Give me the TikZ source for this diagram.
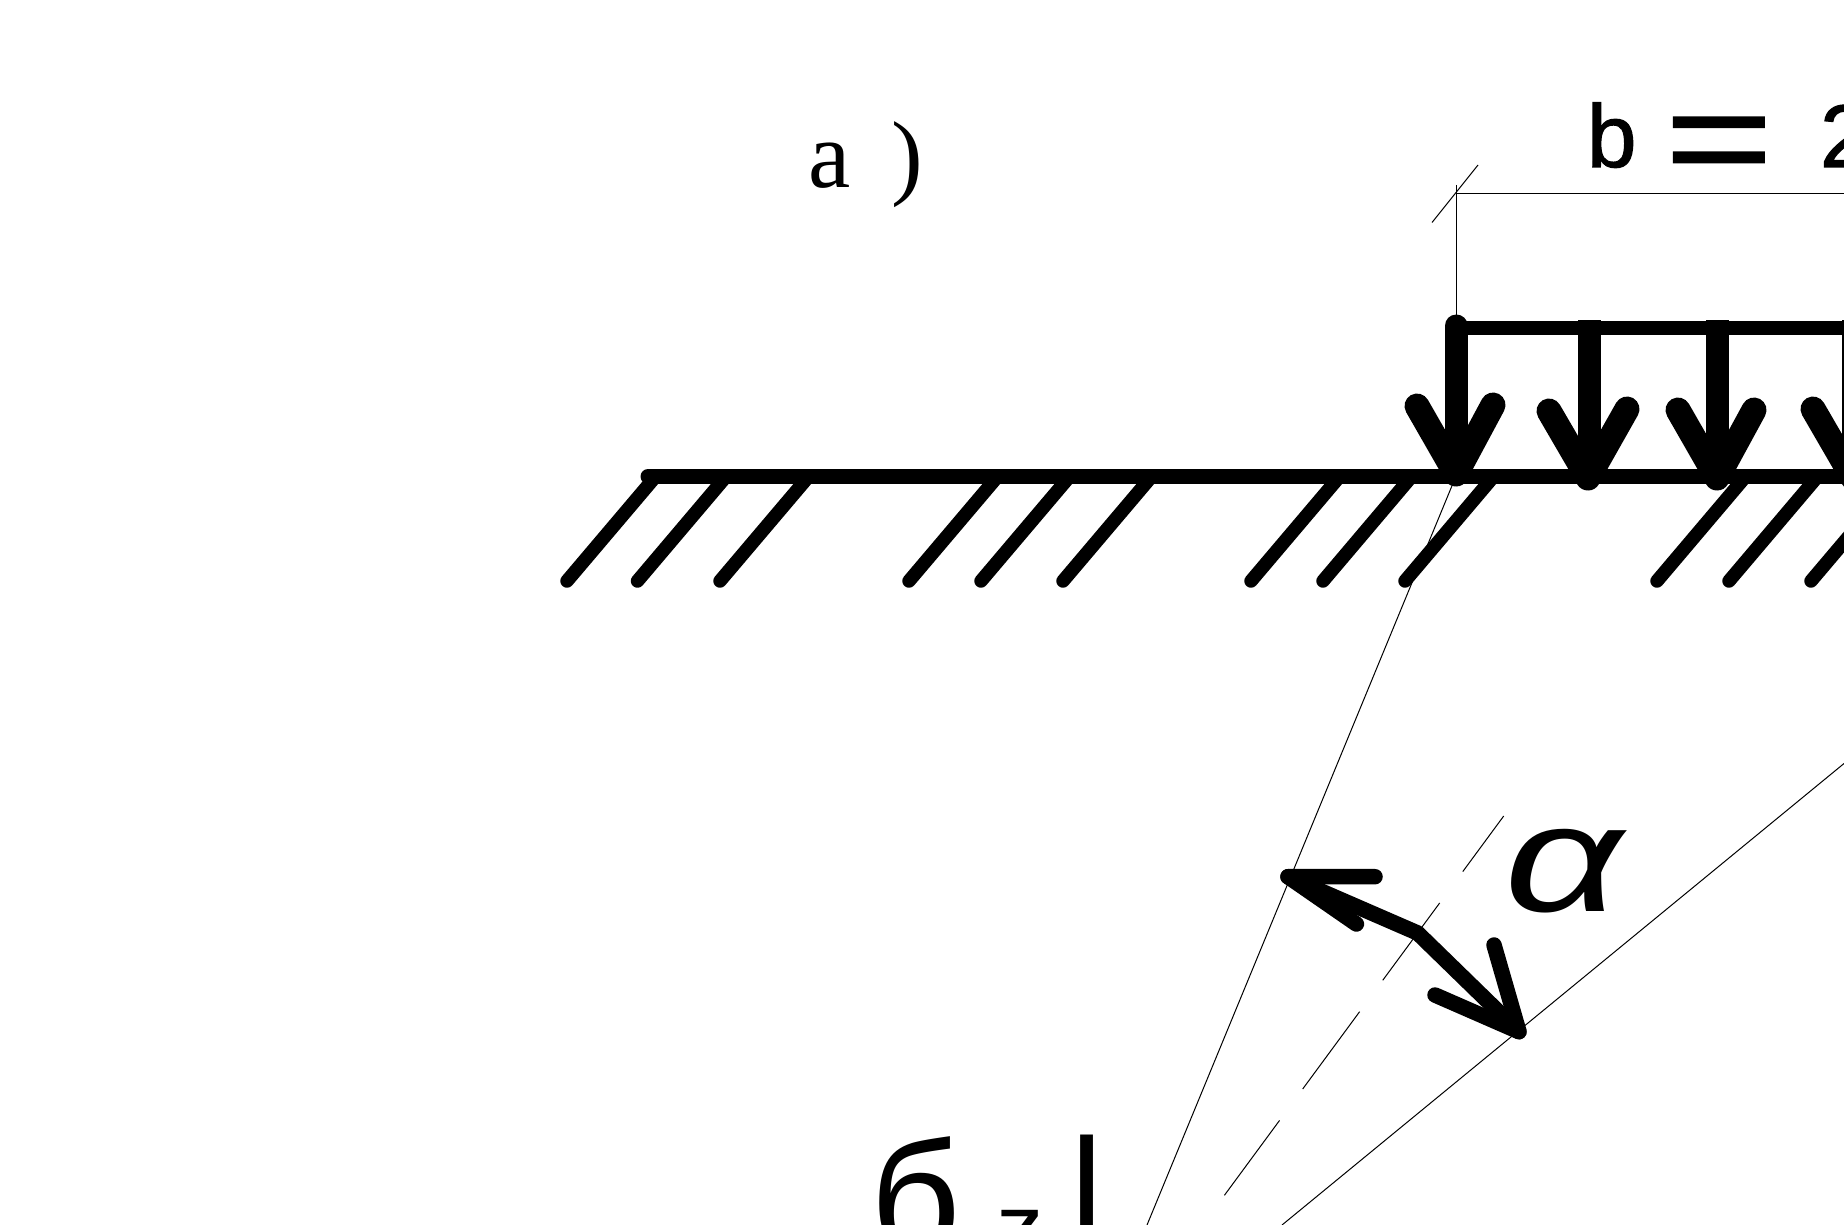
\documentclass[tikz,border=0pt]{standalone}
\usepackage{fontspec}
\setmainfont{Liberation Serif}
\newfontfamily\labelsans{Liberation Sans}
\newfontfamily\labelbold[FakeBold=1.2]{Liberation Sans}
\tikzset{
  thinline/.style={line width=1pt,black},
  groundline/.style={line width=15pt,line cap=round,black},
  hatchline/.style={line width=13.5pt,line cap=round,black},
  loadbar/.style={line width=14pt,line cap=round,black},
  shaft/.style={line width=23pt,line cap=round,black},
  headline/.style={line width=25pt,line cap=round,line join=round,black},
  dimarrow/.style={line width=15.5pt,line cap=round,line join=round,black},
  label/.style={inner sep=0pt,outer sep=0pt,anchor=base west,black}
}
\begin{document}
\begin{tikzpicture}[x=1pt,y=-1pt]
\useasboundingbox (0,0) rectangle (1844,1225);
\clip (0,0) rectangle (1844,1225);
% thin construction lines
\coordinate (dimA) at (1456,185);
\coordinate (dimB) at (1456,326);
\coordinate (dimC) at (1456,194);
\coordinate (dimD) at (1844,194);
\coordinate (tickA) at (1478,165);
\coordinate (tickB) at (1432,222.5);
\draw[thinline] (dimA) -- (dimB);
\draw[thinline] (dimC) -- (dimD);
\draw[thinline] (tickA) -- (tickB);
\coordinate (rayLa) at (1456,476);
\coordinate (rayLb) at (1147,1225);
\coordinate (rayRa) at (1844,763.5);
\coordinate (rayRb) at (1282,1225);
\coordinate (midA) at (1503.7,816);
\coordinate (midB) at (1224.4,1195.3);
\draw[thinline] (rayLa) -- (rayLb);
\draw[thinline] (rayRa) -- (rayRb);
\draw[thinline,dash pattern=on 96pt off 39pt,dash phase=27pt] (midA) -- (midB);
% ground
\coordinate (gndA) at (648,476.5);
\coordinate (gndB) at (1850,476.5);
\draw[groundline] (gndA) -- (gndB);
\foreach \hx in {567,637.5,720,909,981,1063,1251,1323,1405,1657,1729,1811}{
  \draw[hatchline] (\hx,581) -- ++(89,-105);
}
% load
\coordinate (loadA) at (1456,328);
\coordinate (loadB) at (1850,328);
\draw[loadbar] (loadA) -- (loadB);
\draw[shaft] (1456,326) -- (1456,474);
\draw[headline] (1417,406) -- (1456,474) -- (1493,405);
\draw[shaft,line cap=butt] (1589,320) -- (1589,476);
\draw[headline] (1549,411) -- (1588,478) -- (1627,409);
\draw[shaft,line cap=butt] (1717,320) -- (1717,476);
\draw[headline] (1678,410) -- (1717,478) -- (1754,410);
\draw[shaft,line cap=butt] (1853,320) -- (1853,476);
\draw[headline] (1813,409) -- (1853,478) -- (1892,409);
% angle arrow
\coordinate (angTipL) at (1288,876.7);
\coordinate (angApex) at (1417.6,933);
\coordinate (angTipR) at (1519,1031.7);
\draw[dimarrow] (angTipL) -- (angApex) -- (angTipR);
\draw[dimarrow] (1375,876.7) -- (angTipL) -- (1356.4,924);
\draw[dimarrow] (1494,945) -- (angTipR) -- (1435,995);
% labels
\node[label,font=\fontsize{95}{95}\selectfont] (lblA) at (808,188) {a\hspace{41pt})};
\node[label,font=\labelbold\fontsize{89}{89}\selectfont] (lblB) at (1587,167) {b};
\node[label,font=\labelbold\fontsize{165}{165}\selectfont,xscale=1.12,yscale=0.85] (lblEq) at (1665,186) {=};
\node[label,font=\labelbold\fontsize{89}{89}\selectfont] (lblTwo) at (1820,167) {2};
\node[label,font=\labelsans\itshape\fontsize{180}{180}\selectfont,yscale=0.85,xscale=1.15] (lblAlpha) at (1504,911) {α};
\node[label,font=\labelsans\fontsize{158}{158}\selectfont] (lblSigma) at (870,1252) {б};
\node[label,font=\labelsans\fontsize{95}{95}\selectfont] (lblZ) at (996,1260) {z};
\node[label,font=\labelsans\fontsize{158}{158}\selectfont] (lblBar) at (1066.5,1249) {|};
\end{tikzpicture}
\end{document}
